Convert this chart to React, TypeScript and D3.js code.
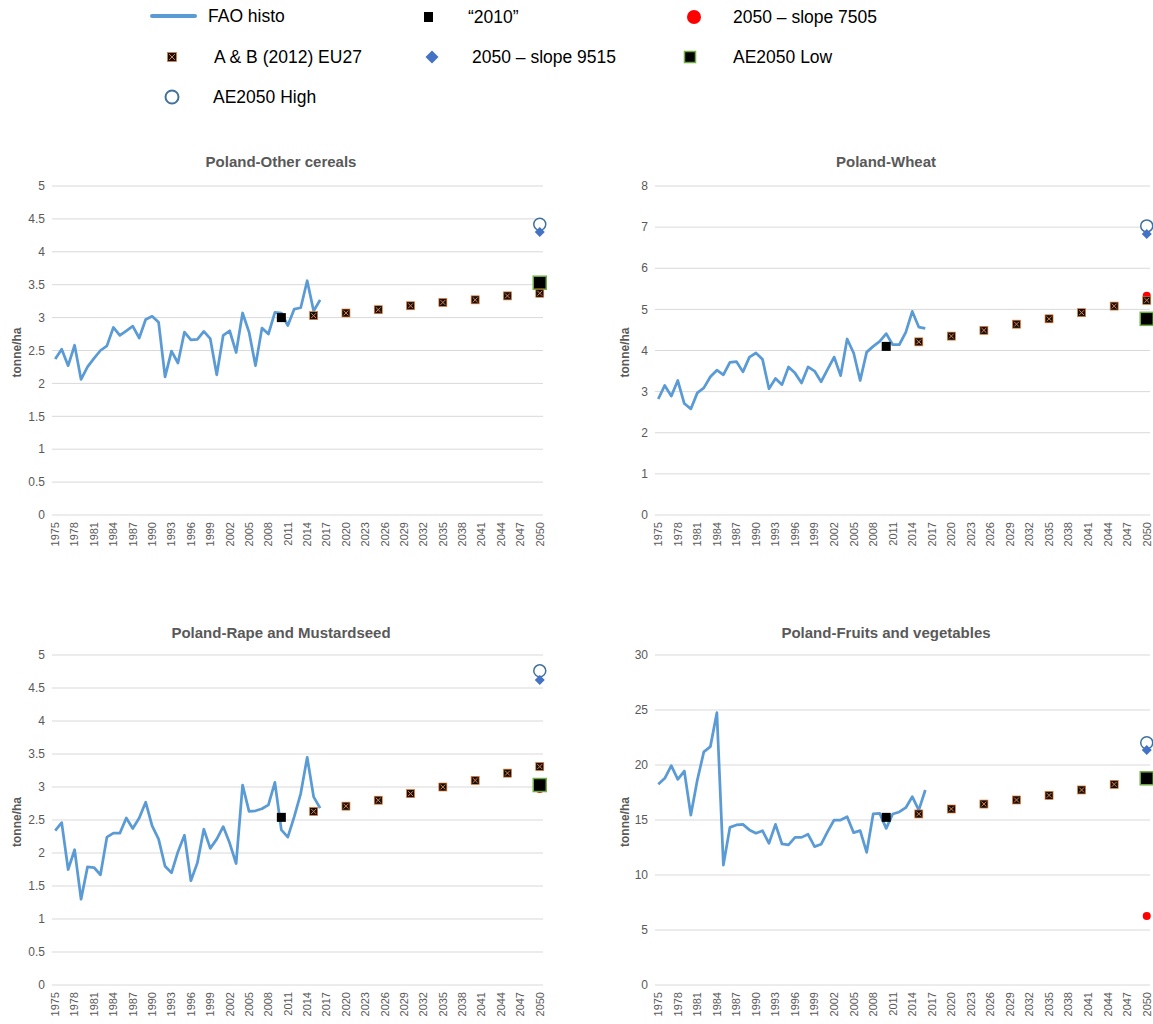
import * as d3 from 'd3';

// categories
const years = d3.range(1975, 2051).map(String);
const histoYears = d3.range(1975, 2017).map(String);
const abYears = ['2015', '2020', '2025', '2030', '2035', '2040', '2045', '2050'];

const titles = [
  'Poland-Other cereals',
  'Poland-Wheat',
  'Poland-Rape and Mustardseed',
  'Poland-Fruits and vegetables',
];
const yMax = [5, 8, 5, 30];
const yStep = [0.5, 1, 0.5, 5];

// FAO histo 1975-2016
const cerealsHisto = [
  2.37, 2.52, 2.27, 2.58, 2.06, 2.25, 2.38, 2.5, 2.57, 2.85, 2.73, 2.8, 2.87, 2.69,
  2.97, 3.02, 2.93, 2.1, 2.49, 2.31, 2.78, 2.66, 2.67, 2.79, 2.68, 2.13, 2.73, 2.8,
  2.47, 3.07, 2.78, 2.27, 2.84, 2.75, 3.08, 3.07, 2.88, 3.13, 3.15, 3.56, 3.1, 3.27,
];
const wheatHisto = [
  2.82, 3.15, 2.89, 3.27, 2.71, 2.58, 2.97, 3.09, 3.36, 3.52, 3.41, 3.71, 3.73, 3.48,
  3.84, 3.94, 3.79, 3.07, 3.32, 3.17, 3.6, 3.45, 3.21, 3.6, 3.5, 3.24, 3.54, 3.84,
  3.39, 4.28, 3.94, 3.27, 3.96, 4.1, 4.22, 4.41, 4.14, 4.14, 4.44, 4.95, 4.57, 4.54,
];
const rapeHisto = [
  2.34, 2.46, 1.75, 2.05, 1.3, 1.79, 1.78, 1.67, 2.24, 2.3, 2.3, 2.53, 2.37, 2.53,
  2.77, 2.41, 2.21, 1.8, 1.7, 2.02, 2.27, 1.58, 1.85, 2.36, 2.07, 2.21, 2.4, 2.15,
  1.84, 3.03, 2.63, 2.64, 2.67, 2.73, 3.07, 2.35, 2.24, 2.55, 2.9, 3.45, 2.85, 2.68,
];
const fruitsHisto = [
  18.24, 18.79, 19.94, 18.7, 19.45, 15.45, 18.64, 21.2, 21.67, 24.76, 10.9, 14.33,
  14.55, 14.6, 14.1, 13.8, 14.03, 12.88, 14.6, 12.82, 12.73, 13.42, 13.42, 13.7,
  12.58, 12.79, 13.94, 15.0, 15.0, 15.3, 13.85, 14.03, 12.06, 15.55, 15.6, 14.24,
  15.55, 15.73, 16.12, 17.12, 15.9, 17.73,
];
const histo = [cerealsHisto, wheatHisto, rapeHisto, fruitsHisto];

// A & B (2012) EU27, 2015-2050
const cerealsAB = [3.03, 3.07, 3.12, 3.18, 3.23, 3.27, 3.33, 3.37];
const wheatAB = [4.21, 4.35, 4.49, 4.64, 4.77, 4.92, 5.08, 5.22];
const rapeAB = [2.63, 2.71, 2.8, 2.9, 3.0, 3.1, 3.21, 3.31];
const fruitsAB = [15.55, 16.0, 16.45, 16.82, 17.24, 17.73, 18.24, null];
const abValues = [cerealsAB, wheatAB, rapeAB, fruitsAB];

// single points
const base2010 = [3.0, 4.1, 2.54, 15.24];
const slope7505 = [null, 5.33, 2.97, 6.27];
const slope9515 = [4.3, 6.83, 4.62, 21.36];
const ae2050Low = [3.53, 4.77, 3.03, 18.79];
const ae2050High = [4.42, 7.03, 4.76, 22.03];

const colors = {
  line: '#5B9BD5',
  grid: '#D9D9D9',
  text: '#595959',
  orange: '#ED7D31',
  diamond: '#4472C4',
  red: '#FF0000',
  green: '#70AD47',
  circle: '#41719C',
};

const font = '"Liberation Sans", Arial, sans-serif';

const layout = [
  { left: 52, right: 543, top: 186, bottom: 515, titleX: 281, titleY: 162, labelX: 17 },
  { left: 655, right: 1150, top: 186, bottom: 515, titleX: 886, titleY: 162, labelX: 625 },
  { left: 52, right: 543, top: 655, bottom: 985, titleX: 281, titleY: 633, labelX: 17 },
  { left: 655, right: 1150, top: 655, bottom: 985, titleX: 886, titleY: 633, labelX: 625 },
];

function ABMarker({ x, y, s = 8 }: { x: number; y: number; s?: number }) {
  const h = s / 2;
  const k = 1.6;
  return (
    <g>
      <rect x={x - h} y={y - h} width={s} height={s} fill="#111" stroke={colors.orange} strokeWidth={0.7} />
      <path
        d={`M${x - h + k},${y - h + k}L${x + h - k},${y + h - k}M${x + h - k},${y - h + k}L${x - h + k},${y + h - k}`}
        stroke={colors.orange}
        strokeWidth={1}
      />
    </g>
  );
}

function Diamond({ x, y, s = 10 }: { x: number; y: number; s?: number }) {
  const h = s / 2;
  return <path d={`M${x},${y - h}L${x + h},${y}L${x},${y + h}L${x - h},${y}Z`} fill={colors.diamond} />;
}

function LowSquare({ x, y, s = 13 }: { x: number; y: number; s?: number }) {
  return (
    <rect x={x - s / 2} y={y - s / 2} width={s} height={s} fill="#000" stroke={colors.green} strokeWidth={1.5} />
  );
}

function Panel({ i }: { i: number }) {
  const L = layout[i];
  const x = d3.scaleBand().domain(years).range([L.left, L.right]).padding(0);
  const cx = (yr: string) => (x(yr) as number) + x.bandwidth() / 2;
  const y = d3.scaleLinear().domain([0, yMax[i]]).range([L.bottom, L.top]);
  const ticks = d3.range(0, yMax[i] + yStep[i] / 2, yStep[i]);
  const line = d3
    .line<number>()
    .x((d, k) => cx(histoYears[k]))
    .y(d => y(d));
  const xTicks = years.filter(yr => (+yr - 1975) % 3 === 0);
  const x2050 = cx('2050');
  const x2010 = cx('2010');

  return (
    <g>
      <text
        x={L.titleX}
        y={L.titleY}
        dy="0.35em"
        textAnchor="middle"
        fontWeight="bold"
        fontSize={15}
        fill={colors.text}
      >
        {titles[i]}
      </text>
      {ticks.map(t => (
        <g key={t}>
          <line x1={L.left} x2={L.right} y1={y(t)} y2={y(t)} stroke={colors.grid} strokeWidth={1} />
          <text x={L.left - 7} y={y(t)} dy="0.35em" textAnchor="end" fontSize={12} fill={colors.text}>
            {String(t)}
          </text>
        </g>
      ))}
      {xTicks.map(yr => (
        <text
          key={yr}
          transform={`translate(${cx(yr)},${L.bottom + 7}) rotate(-90)`}
          dy="0.35em"
          textAnchor="end"
          fontSize={11}
          fill={colors.text}
        >
          {yr}
        </text>
      ))}
      <text
        transform={`translate(${L.labelX},${(L.top + L.bottom) / 2 + 2}) rotate(-90)`}
        dy="0.35em"
        textAnchor="middle"
        fontWeight="bold"
        fontSize={12}
        fill={colors.text}
      >
        tonne/ha
      </text>
      <path d={line(histo[i]) as string} fill="none" stroke={colors.line} strokeWidth={2.75} strokeLinejoin="round" />
      {slope7505[i] != null && <circle cx={x2050} cy={y(slope7505[i] as number)} r={4} fill={colors.red} />}
      <LowSquare x={x2050} y={y(ae2050Low[i])} />
      {abValues[i].map((v, k) =>
        v == null ? null : <ABMarker key={k} x={cx(abYears[k])} y={y(v)} />
      )}
      <rect x={x2010 - 4.5} y={y(base2010[i]) - 4.5} width={9} height={9} fill="#000" />
      <circle cx={x2050} cy={y(ae2050High[i])} r={6} fill="#fff" stroke={colors.circle} strokeWidth={1.5} />
      <Diamond x={x2050} y={y(slope9515[i])} />
    </g>
  );
}

function Legend() {
  const fs = 17.5;
  return (
    <g fontSize={fs} fill="#000">
      <line x1={152} x2={195} y1={16} y2={16} stroke={colors.line} strokeWidth={4} strokeLinecap="round" />
      <text x={208} y={16} dy="0.35em">FAO histo</text>
      <rect x={424} y={12} width={9} height={10} fill="#000" />
      <text x={468} y={17} dy="0.35em">“2010”</text>
      <circle cx={694} cy={17} r={7} fill={colors.red} />
      <text x={733} y={17} dy="0.35em">2050 – slope 7505</text>
      <ABMarker x={172} y={57} s={9} />
      <text x={214} y={57} dy="0.35em">A &amp; B (2012) EU27</text>
      <Diamond x={432} y={57} s={13} />
      <text x={472} y={57} dy="0.35em">2050 – slope 9515</text>
      <LowSquare x={690} y={57} s={11} />
      <text x={733} y={57} dy="0.35em">AE2050  Low</text>
      <circle cx={172} cy={97} r={6.5} fill="#fff" stroke={colors.circle} strokeWidth={2} />
      <text x={213} y={97} dy="0.35em">AE2050 High</text>
    </g>
  );
}

export default function App() {
  return (
    <svg
      width={1153}
      height={1024}
      style={{ position: 'absolute', left: 0, top: 0, background: '#fff' }}
      fontFamily={font}
    >
      <rect width={1153} height={1024} fill="#fff" />
      <Legend />
      {[0, 1, 2, 3].map(i => (
        <Panel key={i} i={i} />
      ))}
    </svg>
  );
}
